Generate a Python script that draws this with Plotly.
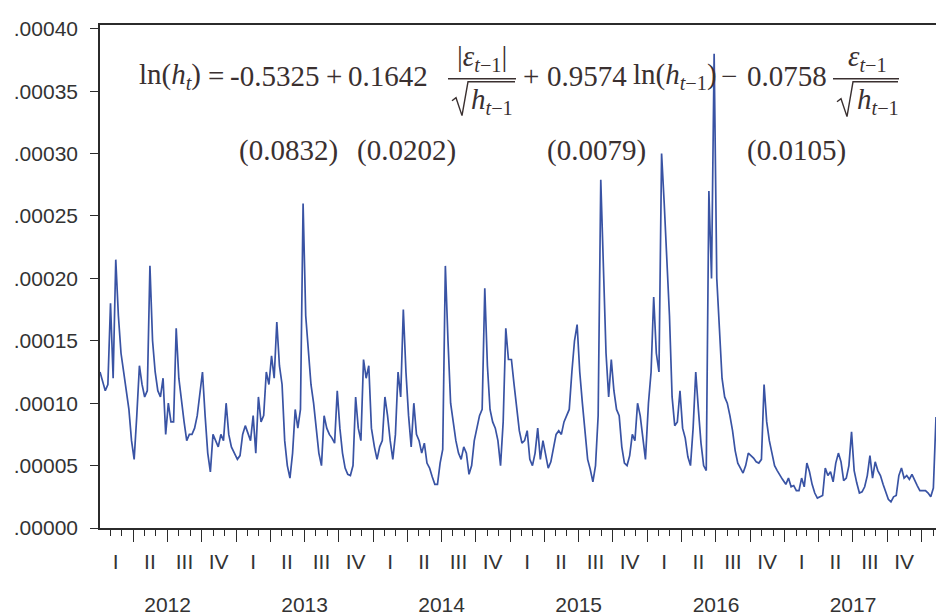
import pandas as pd
import plotly.graph_objects as go

# Conditional variance h_t, weekly readings, in units of 1e-5
h2012_e5 = [12.5, 11.8, 11.0, 11.5, 18.0, 12.0, 21.5, 17.0, 14.0, 12.5,
            11.0, 9.5, 7.0, 5.5, 9.0, 13.0, 11.5, 10.5, 11.0, 21.0,
            15.0, 12.5, 11.0, 10.5, 12.0, 7.5, 10.0, 8.5, 8.5, 16.0,
            12.0, 10.0, 8.5, 7.0, 7.5, 7.5, 8.0, 9.0, 11.0, 12.5,
            9.0, 6.0, 4.5, 7.5, 7.0, 6.5, 7.5, 7.0, 10.0, 7.5, 6.5, 6.0]
h2013_e5 = [5.5, 5.8, 7.5, 8.2, 7.5, 7.0, 9.0, 6.0, 10.5, 8.5,
            9.0, 12.5, 11.5, 13.8, 12.0, 16.5, 13.0, 11.5, 7.0, 5.0,
            4.0, 6.0, 9.5, 8.0, 9.5, 26.0, 17.0, 14.0, 11.5, 10.0,
            8.0, 6.0, 5.0, 9.0, 8.0, 7.5, 7.2, 6.8, 11.0, 8.0,
            6.0, 4.8, 4.3, 4.2, 5.0, 10.5, 8.0, 7.0, 13.5, 12.0, 13.0, 8.0]
h2014_e5 = [6.5, 5.5, 6.5, 7.0, 10.5, 9.0, 7.0, 5.5, 7.5, 12.5,
            10.5, 17.5, 12.5, 9.0, 6.5, 10.0, 7.5, 7.0, 6.0, 6.8,
            5.2, 4.8, 4.1, 3.5, 3.5, 5.2, 6.3, 21.0, 15.0, 10.0,
            8.5, 7.0, 6.0, 5.5, 6.5, 6.0, 4.3, 5.0, 7.0, 8.0,
            9.0, 9.5, 19.2, 13.0, 9.5, 8.5, 8.0, 7.0, 5.0, 8.5, 16.0, 13.5]
h2015_e5 = [13.5, 11.5, 9.5, 7.8, 6.8, 7.0, 7.8, 5.5, 5.0, 6.0,
            8.0, 5.5, 7.0, 6.0, 4.8, 5.3, 6.5, 7.5, 7.8, 7.5,
            8.5, 9.0, 9.5, 12.5, 15.0, 16.3, 12.5, 10.0, 8.0, 5.5,
            4.7, 3.7, 5.0, 9.0, 27.9, 21.0, 14.0, 10.5, 13.5, 11.0,
            9.5, 9.0, 6.5, 5.2, 5.0, 5.8, 7.5, 7.0, 10.0, 9.0, 7.0, 5.5]
h2016_e5 = [10.0, 12.5, 18.5, 14.0, 12.5, 30.0, 26.0, 22.0, 17.0, 10.5,
            8.2, 8.5, 11.0, 8.0, 7.2, 5.7, 5.0, 8.0, 12.5, 9.5,
            6.8, 5.0, 4.6, 27.0, 20.0, 38.0, 20.0, 16.0, 12.0, 10.5,
            10.0, 9.0, 7.8, 6.2, 5.2, 4.8, 4.4, 5.0, 6.0, 5.8,
            5.6, 5.3, 5.2, 5.5, 11.5, 8.5, 7.0, 6.0, 5.0, 4.6, 4.3, 3.9]
h2017_e5 = [3.5, 4.0, 3.3, 3.4, 3.0, 3.0, 4.0, 3.3, 5.2, 4.5,
            3.5, 2.8, 2.4, 2.5, 2.6, 4.8, 4.2, 4.5, 3.7, 5.2,
            6.0, 5.3, 3.8, 4.0, 5.0, 7.7, 4.6, 3.6, 2.8, 2.9,
            3.3, 4.2, 5.8, 4.0, 5.3, 4.6, 4.2, 3.5, 2.9, 2.3,
            2.1, 2.5, 2.6, 4.2, 4.8, 4.0, 4.2, 3.9, 4.3, 3.8, 3.4, 3.0]
h2018_e5 = [3.0, 3.0, 2.8, 2.5, 3.2, 8.9]

years = [2012, 2013, 2014, 2015, 2016, 2017, 2018]
yearly = [h2012_e5, h2013_e5, h2014_e5, h2015_e5, h2016_e5, h2017_e5, h2018_e5]

quarter_text = ["I", "II", "III", "IV"]
y_tickvals = [0, 0.00005, 0.0001, 0.00015, 0.0002, 0.00025, 0.0003, 0.00035, 0.0004]
y_ticktext = [".00000", ".00005", ".00010", ".00015", ".00020", ".00025", ".00030", ".00035", ".00040"]
coefs = ["-0.5325", "0.1642", "0.9574", "0.0758"]
se_text = ["(0.0832)", "(0.0202)", "(0.0079)", "(0.0105)"]

dates, values = [], []
for yr, vals in zip(years, yearly):
    d = pd.date_range(f"{yr}-01-04", periods=len(vals), freq="7D")
    dates.extend(list(d))
    values.extend([v * 1e-5 for v in vals])

x_range = ["2012-01-04", "2018-02-08"]
label_years = years[:-1]
q_starts = [f"{y}-{m:02d}-01" for y in label_years for m in (1, 4, 7, 10)] + ["2018-01-01"]
q_mids = [f"{y}-{md}" for y in label_years for md in ("02-15", "05-16", "08-16", "11-15")]
q_labels = quarter_text * len(label_years)
y_mids = [f"{y}-07-02" for y in label_years]

AX = "#2b2b2b"
TXT = "#3a3030"
W, H = 936, 616
L, R, T, B = 100, 0, 25, 86
PW, PH = W - L - R, H - T - B


def px(x):
    return (x - L) / PW


def py(y):
    return (H - B - y) / PH


fig = go.Figure()
fig.add_trace(go.Scatter(x=dates, y=values, mode="lines",
                         line=dict(color="#3953a4", width=1.7),
                         showlegend=False))
fig.add_trace(go.Scatter(x=[dates[0]], y=[None], xaxis="x2", showlegend=False, hoverinfo="skip"))
fig.add_trace(go.Scatter(x=[dates[0]], y=[None], xaxis="x3", showlegend=False, hoverinfo="skip"))

sans = dict(family="Liberation Sans, Arial, sans-serif", size=21, color="#333333")

fig.update_layout(
    width=W, height=H, margin=dict(l=L, r=R, t=T, b=B),
    paper_bgcolor="white", plot_bgcolor="white",
    xaxis=dict(type="date", range=x_range, tickmode="array", tickvals=q_starts,
               showticklabels=False, ticks="outside", ticklen=12, tickwidth=1.3,
               tickcolor=AX, showline=True, linecolor=AX, linewidth=1.6, mirror=True,
               showgrid=False, zeroline=False,
               minor=dict(tickmode="linear", tick0="2012-01-01", dtick="M1", ticks="outside",
                          ticklen=6, tickwidth=1.3, tickcolor=AX, showgrid=False)),
    xaxis2=dict(type="date", range=x_range, overlaying="x", anchor="y", side="bottom",
                tickmode="array", tickvals=q_mids, ticktext=q_labels, ticks="outside",
                ticklen=15, tickcolor="rgba(0,0,0,0)", showline=False, showgrid=False,
                zeroline=False, tickfont=sans),
    xaxis3=dict(type="date", range=x_range, overlaying="x", anchor="y", side="bottom",
                tickmode="array", tickvals=y_mids, ticktext=[str(y) for y in label_years],
                ticks="outside", ticklen=58, tickcolor="rgba(0,0,0,0)", showline=False,
                showgrid=False, zeroline=False, tickfont=sans),
    yaxis=dict(range=[0, 0.000403], tickmode="array", tickvals=y_tickvals, ticktext=y_ticktext,
               ticks="outside", ticklen=8, tickwidth=1.3, tickcolor=AX, showline=True,
               linecolor=AX, linewidth=1.6, showgrid=False, zeroline=False, tickfont=sans,
               ticklabelstandoff=8),
)

serif = dict(family="Liberation Serif, Times New Roman, serif", size=29, color=TXT)


def note(text, x, y, anchor="left", size=None):
    f = dict(serif)
    if size:
        f["size"] = size
    fig.add_annotation(text=text, x=px(x), y=py(y), xref="paper", yref="paper",
                       xanchor=anchor, yanchor="middle", showarrow=False, font=f)


def hline(x0, x1, y, w=1.5):
    fig.add_shape(type="line", xref="paper", yref="paper", x0=px(x0), x1=px(x1),
                  y0=py(y), y1=py(y), line=dict(color=TXT, width=w))


def radical(x0, x1, ytop, ybot):
    pts = [(x0, ybot - 15), (x0 + 4, ybot - 18), (x0 + 10, ybot), (x0 + 16, ytop), (x1, ytop)]
    path = "M " + " L ".join(f"{px(a)},{py(b)}" for a, b in pts)
    fig.add_shape(type="path", xref="paper", yref="paper", path=path,
                  line=dict(color=TXT, width=1.4))


# main equation line
ym = 76
note("ln(<i>h</i><sub><i>t</i></sub>)", 137, ym)
note("=", 216, ym, anchor="center")
note(coefs[0], 321, ym, anchor="right")
note("+", 334, ym, anchor="center")
note(coefs[1], 346, ym, anchor="left")
note("+", 531, ym, anchor="center")
note(coefs[2], 629, ym, anchor="right")
note("ln(<i>h</i><sub><i>t</i>−1</sub>)", 631, ym)
note("−", 729, ym, anchor="center")
note(coefs[3], 829, ym, anchor="right")

# fraction 1: |eps_{t-1}| / sqrt(h_{t-1})
note("|<i>ε</i><sub><i>t</i>−1</sub>|", 482, 58, anchor="center")
hline(448, 516, 79)
radical(452, 515, 82, 116)
note("<i>h</i><sub><i>t</i>−1</sub>", 469, 101)

# fraction 2: eps_{t-1} / sqrt(h_{t-1})
note("<i>ε</i><sub><i>t</i>−1</sub>", 867, 58, anchor="center")
hline(833, 899, 79)
radical(837, 898, 82, 117)
note("<i>h</i><sub><i>t</i>−1</sub>", 855, 101)

# standard errors
for txt, xl in zip(se_text, [237, 355, 545, 745]):
    note(txt, xl, 151)

fig.write_html("out.html")
